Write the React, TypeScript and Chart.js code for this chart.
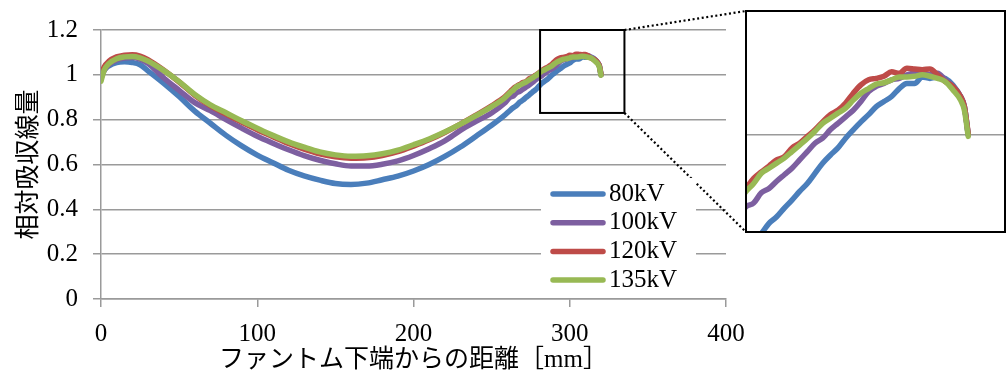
import React, { useEffect, useRef } from 'react';
import { Chart, registerables } from 'chart.js';

Chart.register(...registerables);

// ---------- data ----------
const DISTANCE_MM = [
  0, 2, 5, 10, 15, 20, 25, 30, 40, 50, 60, 70, 80, 90, 100, 110, 120, 130, 140, 150,
  160, 170, 180, 190, 200, 210, 220, 230, 240, 250, 258,
  262, 264, 266, 268, 270, 272, 274, 276, 278, 280, 282, 284, 286, 288, 290, 292, 294, 296, 298, 300,
  302, 304, 306, 308, 310, 312, 314, 316, 318, 319, 320,
];

const SERIES_80KV = [
  0.99, 1.02, 1.04, 1.055, 1.058, 1.055, 1.045, 1.018, 0.963, 0.903, 0.838, 0.784, 0.73, 0.683, 0.642, 0.608, 0.574, 0.549, 0.53, 0.515,
  0.511, 0.517, 0.532, 0.548, 0.571, 0.6, 0.636, 0.678, 0.726, 0.775, 0.818,
  0.843, 0.854, 0.864, 0.878, 0.887, 0.899, 0.91, 0.922, 0.933, 0.947, 0.961, 0.972, 0.982, 0.9955, 1.007, 1.018, 1.028, 1.039, 1.046, 1.053,
  1.064, 1.071, 1.071, 1.08, 1.078, 1.08, 1.078, 1.069, 1.053, 1.039, 1.0,
];

const SERIES_100KV = [
  0.985, 1.02, 1.045, 1.066, 1.075, 1.077, 1.07, 1.052, 0.987, 0.931, 0.876, 0.84, 0.8, 0.762, 0.726, 0.695, 0.666, 0.64, 0.619, 0.603,
  0.593, 0.593, 0.601, 0.616, 0.64, 0.67, 0.705, 0.752, 0.792, 0.83, 0.872,
  0.901, 0.906, 0.92, 0.926, 0.936, 0.945, 0.954, 0.9655, 0.977, 0.9885, 0.9955, 1.007, 1.016, 1.025, 1.034, 1.046, 1.06, 1.067, 1.071, 1.076,
  1.078, 1.083, 1.085, 1.085, 1.083, 1.085, 1.076, 1.067, 1.053, 1.039, 1.0,
];

const SERIES_120KV = [
  1.0, 1.035, 1.06, 1.08, 1.088, 1.09, 1.084, 1.068, 1.022, 0.968, 0.909, 0.862, 0.825, 0.789, 0.755, 0.724, 0.694, 0.669, 0.648, 0.634,
  0.628, 0.63, 0.64, 0.657, 0.682, 0.71, 0.743, 0.78, 0.82, 0.862, 0.899,
  0.926, 0.94, 0.949, 0.957, 0.9655, 0.97, 0.982, 0.9885, 0.998, 1.007, 1.018, 1.028, 1.034, 1.044, 1.0575, 1.069, 1.076, 1.078, 1.081, 1.087,
  1.085, 1.092, 1.091, 1.09, 1.091, 1.083, 1.0735, 1.067, 1.053, 1.039, 1.002,
];

const SERIES_135KV = [
  0.972, 1.02, 1.05, 1.072, 1.08, 1.082, 1.076, 1.062, 1.02, 0.97, 0.912, 0.866, 0.831, 0.795, 0.762, 0.73, 0.701, 0.677, 0.656, 0.643,
  0.637, 0.639, 0.648, 0.664, 0.688, 0.714, 0.745, 0.78, 0.818, 0.858, 0.895,
  0.922, 0.933, 0.947, 0.954, 0.961, 0.968, 0.977, 0.986, 0.995, 1.005, 1.016, 1.023, 1.03, 1.037, 1.048, 1.0575, 1.064, 1.07, 1.072, 1.076,
  1.08, 1.08, 1.081, 1.083, 1.081, 1.078, 1.0735, 1.062, 1.048, 1.034, 0.998,
];

const SERIES = [SERIES_80KV, SERIES_100KV, SERIES_120KV, SERIES_135KV];
const SERIES_NAMES = ['80kV', '100kV', '120kV', '135kV'];
const SERIES_COLORS = ['#4A7EBB', '#7D5FA0', '#BE4B48', '#98B954'];

const X_TICKS = [0, 100, 200, 300, 400];
const Y_TICKS = [0, 0.2, 0.4, 0.6, 0.8, 1, 1.2];
const X_TITLE = 'ファントム下端からの距離［mm］';
const Y_TITLE = '相対吸収線量';

// zoom box on main chart (data coords) and inset ranges
const ZOOM_BOX_X = [281, 335];
const ZOOM_BOX_Y = [0.83, 1.2];
const INSET_X = [262, 329.6];
const INSET_Y = [0.866, 1.171];
const INSET_GRID = [1];

// ---------- layout / style ----------
const W = 1007;
const H = 373;
const PLOT = { left: 101, right: 726, top: 24, bottom: 299 };
const INSET = { left: 745, top: 10, width: 261, height: 224 };
const LEGEND = { left: 541, top: 178, right: 696, bottom: 296, firstRow: 194, rowStep: 28.7, lineX1: 553, lineX2: 603, textX: 609 };
const GRID = '#9a9a9a';
const SERIF = '"Liberation Serif", "Times New Roman", serif';

const overlayPlugin = {
  id: 'overlay',
  afterDatasetsDraw(chart: any) {
    const { ctx, scales } = chart;
    const x = scales.x;
    const y = scales.y;
    ctx.save();
    // zoom box
    const bx1 = x.getPixelForValue(ZOOM_BOX_X[0]);
    const bx2 = x.getPixelForValue(ZOOM_BOX_X[1]);
    const by1 = y.getPixelForValue(ZOOM_BOX_Y[1]);
    const by2 = y.getPixelForValue(ZOOM_BOX_Y[0]);
    ctx.strokeStyle = '#000';
    ctx.lineWidth = 2;
    ctx.setLineDash([]);
    ctx.strokeRect(bx1, by1, bx2 - bx1, by2 - by1);
    // dotted connectors
    ctx.setLineDash([2, 2.6]);
    ctx.lineWidth = 2.2;
    ctx.beginPath();
    ctx.moveTo(bx2, by1);
    ctx.lineTo(INSET.left + 1, INSET.top + 1);
    ctx.moveTo(bx2, by2);
    ctx.lineTo(INSET.left + 1, INSET.top + INSET.height - 2);
    ctx.stroke();
    ctx.setLineDash([]);
    // legend
    ctx.fillStyle = '#fff';
    ctx.fillRect(LEGEND.left, LEGEND.top, LEGEND.right - LEGEND.left, LEGEND.bottom - LEGEND.top);
    ctx.font = `25px ${SERIF}`;
    ctx.textBaseline = 'middle';
    ctx.textAlign = 'left';
    SERIES_NAMES.forEach((name, i) => {
      const ry = LEGEND.firstRow + i * LEGEND.rowStep;
      ctx.strokeStyle = SERIES_COLORS[i];
      ctx.lineWidth = 5.5;
      ctx.lineCap = 'round';
      ctx.beginPath();
      ctx.moveTo(LEGEND.lineX1, ry);
      ctx.lineTo(LEGEND.lineX2, ry);
      ctx.stroke();
      ctx.fillStyle = '#000';
      ctx.fillText(name, LEGEND.textX, ry);
    });
    ctx.restore();
  },
};

const insetFramePlugin = {
  id: 'insetFrame',
  afterDraw(chart: any) {
    const { ctx, chartArea } = chart;
    ctx.save();
    ctx.strokeStyle = '#000';
    ctx.lineWidth = 2;
    ctx.strokeRect(chartArea.left, chartArea.top, chartArea.right - chartArea.left, chartArea.bottom - chartArea.top);
    ctx.restore();
  },
};

function makeDatasets(width: number, clip?: number) {
  return SERIES.map((vals, i) => ({
    label: SERIES_NAMES[i],
    data: DISTANCE_MM.map((xv, j) => ({ x: xv, y: vals[j] })),
    borderColor: SERIES_COLORS[i],
    backgroundColor: SERIES_COLORS[i],
    borderWidth: width,
    borderJoinStyle: 'round' as const,
    borderCapStyle: 'round' as const,
    pointRadius: 0,
    cubicInterpolationMode: 'monotone' as const,
    fill: false,
    order: SERIES.length - i,
    ...(clip !== undefined ? { clip } : {}),
  }));
}

export default function App() {
  const mainRef = useRef<HTMLCanvasElement>(null);
  const insetRef = useRef<HTMLCanvasElement>(null);

  useEffect(() => {
    if (!mainRef.current || !insetRef.current) return;
    const tickFont = { family: SERIF, size: 25 };
    const main = new Chart(mainRef.current, {
      type: 'line',
      data: { datasets: makeDatasets(5.5) as any },
      options: {
        responsive: false,
        animation: false,
        devicePixelRatio: 1,
        layout: { padding: { left: 0, top: PLOT.top, right: W - PLOT.right, bottom: 0 } },
        plugins: { legend: { display: false }, tooltip: { enabled: false } },
        scales: {
          x: {
            type: 'linear',
            min: 0,
            max: 400,
            afterBuildTicks: (s: any) => { s.ticks = X_TICKS.map((v) => ({ value: v })); },
            ticks: { font: tickFont, color: '#000', padding: 12, maxRotation: 0, autoSkip: false, callback: (v: any) => String(v) },
            grid: { drawOnChartArea: false, drawTicks: true, tickLength: 8, color: GRID, lineWidth: 1.5 },
            border: { display: true, color: GRID, width: 1.5 },
            title: { display: true, text: X_TITLE, color: '#000', font: { family: '"Liberation Serif", "Noto Sans CJK JP", serif', size: 25, lineHeight: 1 }, padding: { top: 0, bottom: 0 } },
            afterFit: (s: any) => { s.height = H - PLOT.bottom; },
          },
          y: {
            type: 'linear',
            min: 0,
            max: 1.2,
            afterBuildTicks: (s: any) => { s.ticks = Y_TICKS.map((v) => ({ value: v })); },
            ticks: { font: tickFont, color: '#000', padding: 15, callback: (v: any) => String(Number(Number(v).toFixed(1))) },
            grid: { drawTicks: true, tickLength: 8, color: GRID, lineWidth: 1.5 },
            border: { display: true, color: GRID, width: 1.5 },
            title: { display: true, text: Y_TITLE, color: '#000', font: { family: '"Noto Sans CJK JP", sans-serif', size: 25, lineHeight: 1 }, padding: { top: 14, bottom: 0 } },
            afterFit: (s: any) => { s.width = PLOT.left; },
          },
        },
      } as any,
      plugins: [overlayPlugin],
    });

    const inset = new Chart(insetRef.current, {
      type: 'line',
      data: { datasets: makeDatasets(5.5, 0) as any },
      options: {
        responsive: false,
        animation: false,
        devicePixelRatio: 1,
        layout: { padding: { left: 1, top: 1, right: 1, bottom: 2 } },
        plugins: { legend: { display: false }, tooltip: { enabled: false } },
        scales: {
          x: { type: 'linear', min: INSET_X[0], max: INSET_X[1], display: false },
          y: {
            type: 'linear',
            min: INSET_Y[0],
            max: INSET_Y[1],
            afterBuildTicks: (s: any) => { s.ticks = INSET_GRID.map((v) => ({ value: v })); },
            ticks: { display: false },
            grid: { drawTicks: false, color: GRID, lineWidth: 1.5 },
            border: { display: false },
            afterFit: (s: any) => { s.width = 0; },
          },
        },
      } as any,
      plugins: [insetFramePlugin],
    });

    return () => {
      main.destroy();
      inset.destroy();
    };
  }, []);

  return (
    <div style={{ position: 'fixed', left: 0, top: 0, width: W, height: H, background: '#fff', overflow: 'hidden' }}>
      <canvas ref={mainRef} width={W} height={H} style={{ position: 'absolute', left: 0, top: 0, width: W, height: H, display: 'block' }} />
      <canvas
        ref={insetRef}
        width={INSET.width}
        height={INSET.height}
        style={{ position: 'absolute', left: INSET.left, top: INSET.top, width: INSET.width, height: INSET.height, display: 'block' }}
      />
    </div>
  );
}
